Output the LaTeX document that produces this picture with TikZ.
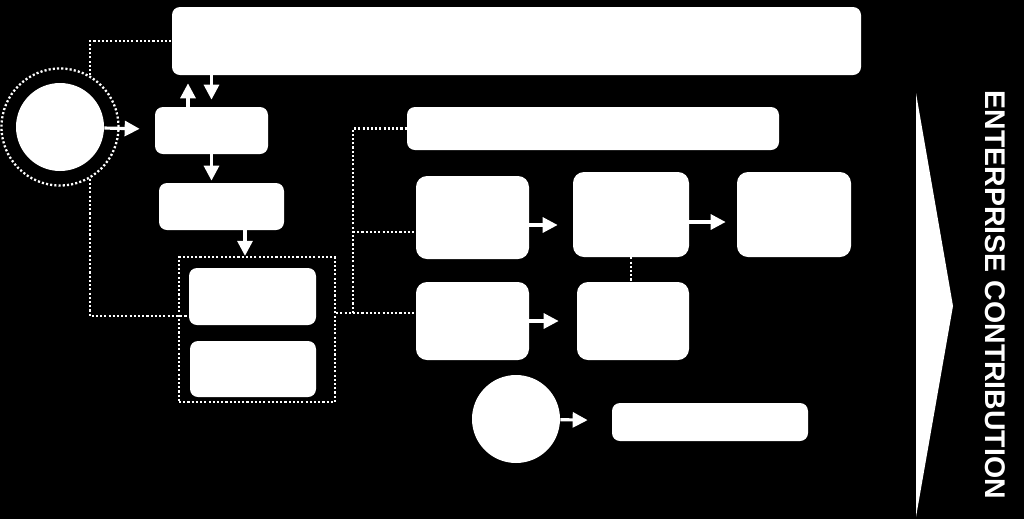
\documentclass[tikz,border=0pt]{standalone}
\usepackage{fontspec}
\setmainfont{Liberation Sans}
\usetikzlibrary{arrows.meta}

\begin{document}
\begin{tikzpicture}[
  box/.style={fill=white, rounded corners=0.16cm, inner sep=0pt},
  bigbox/.style={box, rounded corners=0.22cm},
  disc/.style={circle, fill=white, minimum size=1.76cm, inner sep=0pt},
  arr/.style={white, line width=1.8pt, -{Triangle[length=0.3cm, width=0.3cm]}},
  dots/.style={white, line width=1.3pt, dash pattern=on 1.2pt off 1.2pt}
]
\fill[black] (0,0) rectangle (20.48,-10.38);
\useasboundingbox (0,0) rectangle (20.48,-10.38);

\node[box, minimum width=13.78cm, minimum height=1.36cm] (top) at (10.33,-0.82) {};
\node[circle, dots, draw, minimum size=2.34cm, inner sep=0pt] (halo) at (1.20,-2.54) {};
\node[disc] (src) at (1.20,-2.54) {};
\node[box, minimum width=2.26cm, minimum height=0.94cm] (boxa) at (4.23,-2.61) {};
\node[box, minimum width=2.50cm, minimum height=0.94cm] (boxb) at (4.43,-4.13) {};
\node[dots, draw, minimum width=3.12cm, minimum height=2.90cm, inner sep=0pt] (grp) at (5.14,-6.59) {};
\node[box, minimum width=2.54cm, minimum height=1.14cm] (boxc) at (5.05,-5.93) {};
\node[box, minimum width=2.52cm, minimum height=1.12cm] (boxd) at (5.06,-7.38) {};

\node[box, minimum width=7.44cm, minimum height=0.86cm] (bar) at (11.86,-2.57) {};
\node[bigbox, minimum width=2.26cm, minimum height=1.66cm] (d1) at (9.45,-4.35) {};
\node[bigbox, minimum width=2.32cm, minimum height=1.70cm] (d2) at (12.62,-4.29) {};
\node[bigbox, minimum width=2.28cm, minimum height=1.70cm] (d3) at (15.88,-4.29) {};
\node[bigbox, minimum width=2.26cm, minimum height=1.56cm] (e1) at (9.45,-6.42) {};
\node[bigbox, minimum width=2.24cm, minimum height=1.56cm] (e2) at (12.66,-6.42) {};
\node[disc] (src2) at (10.32,-8.38) {};
\node[box, minimum width=3.92cm, minimum height=0.76cm] (out) at (14.20,-8.44) {};

\fill[white] (18.32,-1.86) -- (19.06,-6.12) -- (18.32,-10.34) -- cycle;
\node[white, rotate=-90, font=\bfseries\fontsize{16.2}{18}\selectfont] (label) at (19.90,-5.90) {ENTERPRISE CONTRIBUTION};

\coordinate (jn) at (7.06,-6.26);

\draw[dots] (halo.60) |- (top.west);
\draw[dots] (halo.-60) |- ([yshift=-0.39cm]boxc.west);
\draw[dots] (grp.east |- jn) -- (e1.west |- jn);
\draw[dots] (jn) |- (bar.west);
\draw[dots] (jn |- d1.west) ++(0,-0.29) -- ([yshift=-0.29cm]d1.west);
\draw[dots] (d2.south) -- (d2.south |- e2.north);

\draw[arr, shorten >=0.30cm] (src) -- (boxa);
\draw[arr, shorten >=0.16cm] ([xshift=-0.47cm]boxa.north) -- ([xshift=-0.47cm]boxa.north |- top.south);
\draw[arr, shorten >=0.14cm] (boxa.north |- top.south) -- (boxa.north);
\draw[arr, shorten >=0.04cm] (boxa.south) -- (boxa.south |- boxb.north);
\draw[arr] ([xshift=0.47cm]boxb.south) -- ([xshift=0.47cm]boxb.south |- grp.north);
\draw[arr, shorten >=0.30cm] ([yshift=-0.15cm]d1.east) -- ([yshift=-0.15cm]d1.east -| d2.west);
\draw[arr, shorten >=0.22cm] ([yshift=-0.15cm]d2.east) -- ([yshift=-0.15cm]d2.east -| d3.west);
\draw[arr, shorten >=0.36cm] (e1) -- (e2);
\draw[arr, shorten >=0.48cm] (src2) -- (out);
\end{tikzpicture}
\end{document}
